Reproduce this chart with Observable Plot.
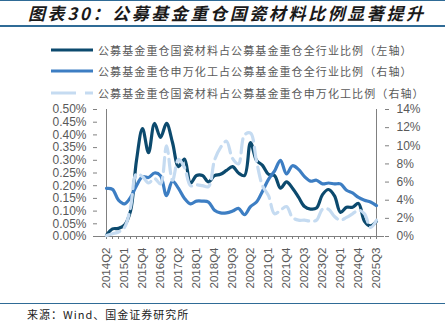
<!DOCTYPE html>
<html>
<head>
<meta charset="utf-8">
<script src="https://cdn.jsdelivr.net/npm/d3@7"></script>
<script src="https://cdn.jsdelivr.net/npm/@observablehq/plot@0.6"></script>
<style>
  html, body { margin: 0; padding: 0; background: #fff; }
  #wrap { position: relative; width: 445px; height: 326px; overflow: hidden; font-family: "Noto Sans CJK SC", sans-serif; }
  .rule { position: absolute; left: 0; width: 445px; background: #2f6b96; }
  #title { position: absolute; left: 28px; top: 2px; font-size: 17px; line-height: 22px; font-weight: bold; font-style: italic; color: #1a1a1a; letter-spacing: 2.6px; white-space: nowrap; }
  #legend { position: absolute; left: 51px; top: 39px; }
  .item { display: flex; align-items: center; height: 21.5px; }
  .item svg { width: 42px; height: 6px; margin-right: 5px; }
  .item span { font-size: 11px; color: #595959; letter-spacing: 1.1px; white-space: nowrap; }
  #chart { position: absolute; left: 0; top: 100px; }
  #source { position: absolute; left: 27px; top: 306px; font-size: 11px; color: #222; letter-spacing: 1px; white-space: nowrap; }
</style>
</head>
<body>
<div id="wrap">
  <div class="rule" style="top:0px;height:1px;"></div>
  <div id="title">图表30：公募基金重仓国瓷材料比例显著提升</div>
  <div class="rule" style="top:25px;height:2px;"></div>
  <div id="legend"></div>
  <div id="chart"></div>
  <div class="rule" style="top:303px;height:1px;"></div>
  <div id="source">来源：Wind、国金证券研究所</div>
</div>
<script>
// ---- data ----
const quarters = [
  "2014Q2","2014Q3","2014Q4",
  "2015Q1","2015Q2","2015Q3","2015Q4",
  "2016Q1","2016Q2","2016Q3","2016Q4",
  "2017Q1","2017Q2","2017Q3","2017Q4",
  "2018Q1","2018Q2","2018Q3","2018Q4",
  "2019Q1","2019Q2","2019Q3","2019Q4",
  "2020Q1","2020Q2","2020Q3","2020Q4",
  "2021Q1","2021Q2","2021Q3","2021Q4",
  "2022Q1","2022Q2","2022Q3","2022Q4",
  "2023Q1","2023Q2","2023Q3","2023Q4",
  "2024Q1","2024Q2","2024Q3","2024Q4",
  "2025Q1","2025Q2","2025Q3"
];
const xTickLabels = ["2014Q2","2015Q1","2015Q4","2016Q3","2017Q2","2018Q1","2018Q4","2019Q3",
  "2020Q2","2021Q1","2021Q4","2022Q3","2023Q2","2024Q1","2024Q4","2025Q3"];

// 国瓷材料占公募基金重仓全行业比例 (左轴, %)
const guociShareAll = [0.005,0.030,0.032,0.045,0.100,0.300,0.425,0.330,0.445,0.390,
  0.445,0.370,0.275,0.305,0.210,0.240,0.240,0.215,0.240,0.245,
  0.260,0.275,0.250,0.240,0.370,0.300,0.280,0.245,0.240,0.190,
  0.215,0.190,0.155,0.118,0.108,0.112,0.165,0.185,0.160,0.095,
  0.115,0.115,0.130,0.060,0.042,0.060];
// 申万化工占公募基金重仓全行业比例 (右轴, %)
const chemShareAll = [5.3,5.2,4.0,3.6,4.3,5.6,6.6,6.5,7.0,6.7,
  4.5,6.1,5.3,4.2,3.6,3.9,3.9,3.8,2.9,2.6,
  2.6,2.8,3.1,2.4,3.3,3.8,5.0,6.3,7.2,8.4,
  6.9,7.8,7.4,6.6,6.1,6.2,5.8,5.9,5.8,5.8,
  5.1,4.8,4.3,4.0,3.8,3.4];
// 国瓷材料占公募基金重仓申万化工比例 (右轴, %)
const guociShareChem = [0.1,0.3,0.5,1.0,3.2,6.9,6.6,5.9,6.4,5.8,
  10.0,6.2,8.5,7.6,5.6,5.7,5.6,5.5,8.4,9.8,
  10.5,8.6,8.0,11.2,11.4,8.3,5.6,4.5,2.5,2.9,
  3.3,2.1,1.8,1.8,1.7,1.8,3.0,3.0,2.2,1.8,
  2.1,2.5,2.9,2.5,1.0,1.8];

const leftTicks = [0,0.05,0.10,0.15,0.20,0.25,0.30,0.35,0.40,0.45,0.50];
const rightTicks = [0,2,4,6,8,10,12,14];

const seriesNames = [
  "公募基金重仓国瓷材料占公募基金重仓全行业比例（左轴）",
  "公募基金重仓申万化工占公募基金重仓全行业比例（右轴）",
  "公募基金重仓国瓷材料占公募基金重仓申万化工比例（右轴）"
];
const colors = ["#0c4a6e", "#3d7ec3", "#c5dbf1"];
const dash = "14,6";

// ---- build ----
const LEFT_MAX = 0.5, RIGHT_MAX = 14, RATIO = LEFT_MAX / RIGHT_MAX;
const rows = quarters.map((q, i) => ({
  q, a: guociShareAll[i], b: chemShareAll[i] * RATIO, c: guociShareChem[i] * RATIO
}));
const labelSet = new Set(xTickLabels);

// legend
const legend = document.getElementById("legend");
seriesNames.forEach((name, k) => {
  const div = document.createElement("div");
  div.className = "item";
  div.innerHTML = `<svg viewBox="0 0 42 6"><line x1="0" x2="42" y1="3" y2="3" stroke="${colors[k]}" stroke-width="3.2" ${k === 2 ? 'stroke-dasharray="25,9"' : ''}/></svg><span>${name}</span>`;
  legend.appendChild(div);
});

const axisStyle = { stroke: "#808080", fill: "#595959", fontSize: 12 };
const chart = Plot.plot({
  width: 445,
  height: 200,
  marginTop: 9,
  marginBottom: 64,
  marginLeft: 97,
  marginRight: 61,
  style: { fontFamily: "'Liberation Sans', Arial, sans-serif", fontSize: "12px", background: "transparent", overflow: "visible" },
  x: { type: "point", domain: quarters, padding: 0 },
  y: { domain: [0, LEFT_MAX] },
  marks: [
    Plot.axisY(leftTicks, { anchor: "left", tickSize: 4, tickPadding: 7, tickFormat: d => d.toFixed(2) + "%", ...axisStyle, label: null }),
    Plot.axisY(rightTicks.map(v => v * RATIO), { anchor: "right", tickSize: 4, tickPadding: 8, tickFormat: d => Math.round(d / RATIO) + "%", ...axisStyle, label: null }),
    Plot.axisX(quarters, { anchor: "bottom", tickSize: 3, tickPadding: 8, tickRotate: -90, tickFormat: d => labelSet.has(d) ? d : "", ...axisStyle, fontSize: 11.5, label: null }),
    Plot.ruleX([quarters[0], quarters[quarters.length - 1]], { y1: 0, y2: LEFT_MAX, stroke: "#808080" }),
    Plot.ruleY([0], { stroke: "#808080" }),
    Plot.line(rows, { x: "q", y: "a", stroke: colors[0], strokeWidth: 3.2, curve: "catmull-rom" }),
    Plot.line(rows, { x: "q", y: "b", stroke: colors[1], strokeWidth: 3.2, curve: "catmull-rom" }),
    Plot.line(rows, { x: "q", y: "c", stroke: colors[2], strokeWidth: 3.2, strokeDasharray: dash, curve: "catmull-rom" })
  ]
});
document.getElementById("chart").appendChild(chart);
</script>
</body>
</html>
